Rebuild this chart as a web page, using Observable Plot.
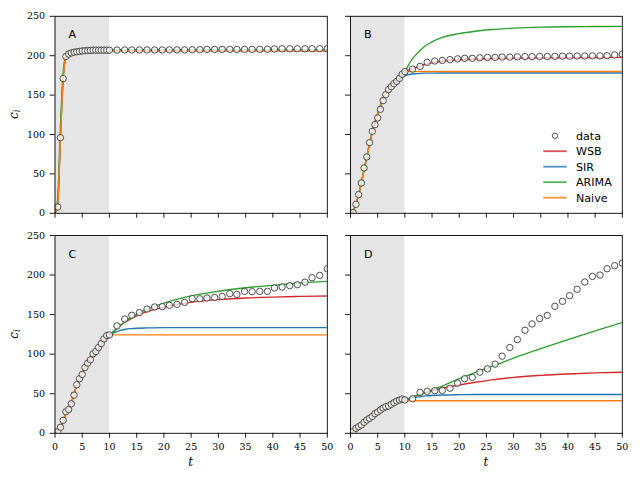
<!DOCTYPE html>
<html>
<head>
<meta charset="utf-8">
<script src="https://cdn.jsdelivr.net/npm/d3@7"></script>
<script src="https://cdn.jsdelivr.net/npm/@observablehq/plot@0.6"></script>
<style>
  body { margin: 0; background: #fff; }
  #wrap { position: relative; width: 640px; height: 480px; overflow: hidden; background: #fff; }
</style>
</head>
<body>
<div id="wrap"></div>
<script>
// ---------- data ----------
const dataTime = [0.5,1,1.5,2,2.5,3,3.5,4,4.5,5,5.5,6,6.5,7,7.5,8,8.5,9,9.5,10,
  11.4,12.8,14.1,15.5,16.9,18.3,19.7,21.0,22.4,23.8,25.2,26.6,27.9,29.3,30.7,32.1,33.4,34.8,36.2,37.6,39.0,40.3,41.7,43.1,44.5,45.9,47.2,48.6,50.0];

const dataA = [8,96,171,199,202,203.5,204.5,205,205.5,206,206.3,206.5,206.7,207,207,207,207,207,207,207,
  207.2,207.3,207.3,207.3,207.3,207.3,207.3,207.4,207.4,207.4,207.5,207.6,208,208,208,208,208,208,208,208.1,
  208.2,208.6,208.8,208.8,208.8,208.8,208.9,208.9,209];
const dataB = [1,11.4,23.7,38.5,57.5,71.5,89.7,104,112.5,121,132,143,150.6,157,160.7,164.5,167.5,171.3,176.4,179.8,
  183,186.5,191.6,193.3,194,195,196,196.7,196.7,197.4,197.8,197.8,198.2,198.2,198.6,198.8,198.8,199,199,199.2,
  199.4,199.4,199.6,199.6,199.8,199.8,200,201,202];
const dataC = [2,7.6,16.4,27.3,30,37.4,48.3,61.3,69,74.4,83.2,88.7,92.9,100.4,103.4,108.4,113.4,119.3,123.5,124.4,
  135.7,144.5,149.2,152.5,157.1,159.7,160,161.8,163,165.5,170.2,170,171,171.8,173,176.5,175.6,179.4,179,179.4,
  179.4,183.6,184.9,186.6,187.8,191,196.6,199.6,208];
const dataD = [2,6.3,8.4,10.5,13.9,16.8,18.9,21.4,24.8,26.9,29.4,31.9,33.6,34.5,36.6,38.7,40.8,42,43.3,42.2,
  43.7,51.7,53,53.8,54.2,57,63.4,69,70.6,77.3,81.5,87.4,97.5,108.4,118.5,130.3,138.2,145,149,160.5,
  166.8,174,182,191.2,198.3,200,208,211.8,215];

const curveTime = [0,0.5,1,1.5,2,2.5,3,4,5,6,7,8,9,10,11,12,13,14,15,17,20,23,26,30,35,40,45,50];

const wsbA   = [0,10,95,170,197,202,204,205.3,205.9,206.1,206.2,206.3,206.3,206.3,206.3,206.3,206.3,206.3,206.3,206.3,206.3,206.3,206.3,206.3,206.3,206.3,206.3,206.3];
const sirA   = [0,12,100,173,198,202.5,204.5,206,206.6,206.9,207,207,207,207,207,207,207,207,207,207,207,207,207,207,207,207,207,207];
const arimaA = [0,20,112,180,200,203.5,205,206,206.5,206.8,207,207,207,207,207,207,207,207,207,207,207,207,207,207,207,207,207,207];
const naiveA = [0,11,96,171,198,202,204,205.3,206,206.3,206.5,206.5,206.5,206.5,206.5,206.5,206.5,206.5,206.5,206.5,206.5,206.5,206.5,206.5,206.5,206.5,206.5,206.5];

const wsbB   = [0,3,12,24,39,55,72,103,126,145,158,166,173,179,182.5,185,187.5,189.5,191,193,194.8,195.8,196.4,196.9,197.3,197.5,197.7,197.8];
const sirB   = [0,3,12,24,39,55,72,103,126,145,157,165,170,174.5,176.5,177.2,177.6,177.8,177.9,178,178,178,178,178,178,178,178,178];
const arimaB = [0,3,12,24,39,55,72,103,126,145,158,166,173,180,192,201,208,213.5,217.5,223.5,228,231,233.2,235,236.3,236.8,237,237.2];
const naiveB = [0,3,12,24,39,55,72,103,126,145,158,166,173,180,180,180,180,180,180,180,180,180,180,180,180,180,180,180];

const wsbC   = [0,3,8,16,25,32,39,61,76,89,99,107,116,124,130,136,141,145,148.5,154,159.5,163.5,166.5,169,171,172.2,173,173.5];
const sirC   = [0,3,8,16,25,32,39,61,76,89,99,107,116,124,127.5,130,131.5,132.3,132.8,133.2,133.5,133.5,133.5,133.5,133.5,133.5,133.5,133.5];
const arimaC = [0,3,8,16,25,32,39,61,76,89,99,107,116,124,130.5,136.5,142,146.5,150.5,157,164.5,170.5,175,179.5,184,187,190,192];
const naiveC = [0,3,8,16,25,32,39,61,76,89,99,107,116,124.4,124.4,124.4,124.4,124.4,124.4,124.4,124.4,124.4,124.4,124.4,124.4,124.4,124.4,124.4];

const wsbD   = [0,2,5,8,10.5,13.5,16.5,21.5,26,30.5,34.5,37.5,40,42,44.5,47,49.3,51.5,53.5,57,61,64.5,67.5,70.7,73.2,75,76.3,77.2];
const sirD   = [0,2,5,8,10.5,13.5,16.5,21.5,26,30.5,34.5,37.5,40,42,44,45.5,46.5,47.3,47.8,48.4,48.8,49,49,49,49,49,49,49];
const arimaD = [0,2,5,8,10.5,13.5,16.5,21.5,26,30.5,34.5,37.5,40,42,44.8,47.5,50,52.5,55,60,69,77,84.5,95,107,118.5,129.5,140];
const naiveD = [0,2,5,8,10.5,13.5,16.5,21.5,26,30.5,34.5,37.5,40,41.2,41.2,41.2,41.2,41.2,41.2,41.2,41.2,41.2,41.2,41.2,41.2,41.2,41.2,41.2];

const seriesNames  = ["WSB","SIR","ARIMA","Naive"];
const seriesColors = ["#d62728","#1f77b4","#2ca02c","#ff7f0e"];
const panelLetters = ["A","B","C","D"];
const xTicks = [0,5,10,15,20,25,30,35,40,45,50];
const yTicks = [0,50,100,150,200,250];
const shadeBand = [[0,10]];

const SERIF = "'DejaVu Serif', 'Liberation Serif', serif";

// ---------- layout ----------
const panels = [
  {letter: panelLetters[0], data: dataA, series: [wsbA,sirA,arimaA,naiveA], left:0,   top:0,   width:335, height:224, ml:54.5, mr:8.2,  mt:15.8, mb:11.2, xl:false, yl:true},
  {letter: panelLetters[1], data: dataB, series: [wsbB,sirB,arimaB,naiveB], left:335, top:0,   width:305, height:224, ml:15,   mr:18.2, mt:15.8, mb:11.2, xl:false, yl:false},
  {letter: panelLetters[2], data: dataC, series: [wsbC,sirC,arimaC,naiveC], left:0,   top:224, width:335, height:256, ml:54.5, mr:8.2,  mt:11,   mb:47.2, xl:true,  yl:true},
  {letter: panelLetters[3], data: dataD, series: [wsbD,sirD,arimaD,naiveD], left:335, top:224, width:305, height:256, ml:15,   mr:18.2, mt:11,   mb:47.2, xl:true,  yl:false}
];

const wrap = document.getElementById("wrap");

for (const p of panels) {
  const marks = [
    Plot.rect(shadeBand, {x1: d => d[0], x2: d => d[1], fill: "#e5e5e5"})
  ];
  p.series.forEach((vals, k) => {
    marks.push(Plot.line(curveTime, {
      x: d => d, y: (d, i) => vals[i],
      stroke: seriesColors[k], strokeWidth: 1.35, curve: "monotone-x", clip: true
    }));
  });
  marks.push(Plot.dot(dataTime, {
    x: d => d, y: (d, i) => p.data[i],
    r: 3.2, stroke: "#3a3a3a", strokeWidth: 0.9, fill: "#ffffff", fillOpacity: 0.72, clip: true
  }));
  marks.push(Plot.frame({stroke: "#000", strokeWidth: 0.9}));
  marks.push(Plot.axisX({
    ticks: xTicks, tickSize: 4.9, tickPadding: 5, strokeWidth: 0.9,
    fontFamily: SERIF, fontSize: 9.5,
    tickFormat: p.xl ? (d => String(d)) : (() => ""), label: null
  }));
  marks.push(Plot.axisY({
    ticks: yTicks, tickSize: 4.9, tickPadding: 5, strokeWidth: 0.9,
    fontFamily: SERIF, fontSize: 9.5,
    tickFormat: p.yl ? (d => String(d)) : (() => ""), label: null
  }));
  marks.push(Plot.text([p.letter], {
    text: d => d, frameAnchor: "top-left", textAnchor: "start", lineAnchor: "top",
    dx: 13.5, dy: 14.2, fontFamily: "DejaVu Sans", fontSize: 11.1, fill: "#000"
  }));

  const svg = Plot.plot({
    width: p.width, height: p.height,
    marginLeft: p.ml, marginRight: p.mr, marginTop: p.mt, marginBottom: p.mb,
    x: {domain: [0, 50]},
    y: {domain: [0, 250]},
    style: {background: "transparent", overflow: "visible", fontFamily: SERIF, fontSize: "9.5px", color: "#000"},
    marks
  });
  svg.style.position = "absolute";
  svg.style.left = p.left + "px";
  svg.style.top = p.top + "px";
  svg.style.maxWidth = "none";
  wrap.appendChild(svg);
}

// ---------- overlay: axis titles and legend ----------
const ov = d3.select(wrap).append("svg")
  .attr("width", 640).attr("height", 480)
  .style("position", "absolute").style("left", "0px").style("top", "0px")
  .style("overflow", "visible").style("pointer-events", "none");

// y titles (c_i)
[114.3, 334].forEach(cy => {
  const t = ov.append("text")
    .attr("transform", `translate(17.5,${cy}) rotate(-90)`)
    .attr("text-anchor", "middle")
    .style("font-family", SERIF).attr("font-size", 12).attr("fill", "#000");
  t.append("tspan").attr("font-style", "italic").text("c");
  t.append("tspan").attr("font-style", "italic").attr("font-size", 8.5).attr("dy", 2.5).text("i");
});
// x titles (t)
[190.6, 485.9].forEach(cx => {
  ov.append("text").attr("x", cx).attr("y", 465.5)
    .attr("text-anchor", "middle").style("font-family", SERIF)
    .attr("font-style", "italic").attr("font-size", 12).attr("fill", "#000").text("t");
});

// legend in panel B
const legX0 = 543.3, legX1 = 566.7, legText = 576, legY0 = 135.7, legStep = 15.5;
const lg = ov.append("g").style("font-family", "'DejaVu Sans', sans-serif").attr("font-size", 11.1);
lg.append("circle").attr("cx", (legX0 + legX1) / 2).attr("cy", legY0).attr("r", 2.7)
  .attr("fill", "#fff").attr("stroke", "#3a3a3a").attr("stroke-width", 0.9);
lg.append("text").attr("x", legText).attr("y", legY0).attr("dy", "0.36em").attr("fill", "#000").text("data");
seriesNames.forEach((name, k) => {
  const y = legY0 + legStep * (k + 1);
  lg.append("line").attr("x1", legX0).attr("x2", legX1).attr("y1", y).attr("y2", y)
    .attr("stroke", seriesColors[k]).attr("stroke-width", 1.8).attr("stroke-opacity", 0.8);
  lg.append("text").attr("x", legText).attr("y", y).attr("dy", "0.36em").attr("fill", "#000").text(name);
});
</script>
</body>
</html>
